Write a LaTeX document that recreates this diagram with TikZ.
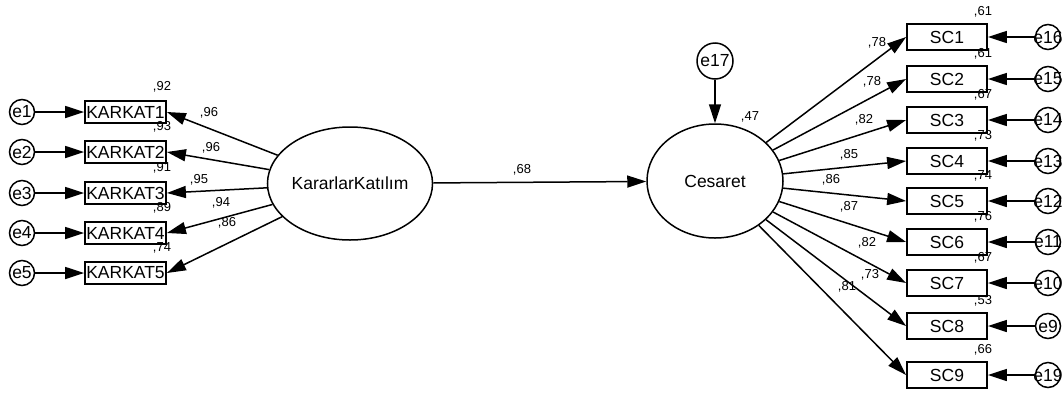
\documentclass[tikz,border=0pt]{standalone}
\usepackage{fontspec}
\setmainfont{Liberation Sans}
\usetikzlibrary{shapes.geometric,arrows.meta}
\begin{document}
\begin{tikzpicture}[x=1pt,y=-1pt,
  lw/.style={line width=1.5pt},
  arr/.style={lw,-{Triangle[length=19pt,width=12pt]}},
  obsK/.style={draw,line width=1.8pt,minimum width=81pt,minimum height=22pt,inner sep=0pt,font=\fontsize{17.5}{17.5}\selectfont},
  obsS/.style={draw,line width=1.8pt,minimum width=80pt,minimum height=26pt,inner sep=0pt,font=\fontsize{17.5}{17.5}\selectfont},
  lat/.style={draw,lw,ellipse,inner sep=0pt,font=\fontsize{17.5}{17.5}\selectfont},
  errc/.style={draw,lw,circle,minimum size=25pt,inner sep=0pt,font=\fontsize{17.5}{17.5}\selectfont},
  num/.style={font=\fontsize{13}{13}\selectfont,inner sep=0pt}
]
\useasboundingbox (0,0) rectangle (1064,394);

% latent variables
\node[lat,minimum width=134pt,minimum height=113pt] (kk) at (350,183.5) {KararlarKatılım};
\node[lat,minimum width=136pt,minimum height=114pt] (ces) at (715,181) {Cesaret};
\node[errc,minimum size=36pt] (e17) at (715,61) {e17};

% left indicators
\foreach \i/\y in {1/112,2/152,3/193,4/233,5/273}{
  \node[obsK] (k\i) at (125.5,\y) {KARKAT\i};
  \node[errc] (e\i) at (22,\y) {\makebox[0pt]{e\i}};
  \draw[arr] (e\i) -- (k\i.west);
  \draw[arr] (kk) -- (k\i.east);
}
% right indicators
\foreach \i/\y/\e in {1/37/16,2/79/15,3/120/14,4/161/13,5/201/12,6/242/11,7/283/10,8/326/9,9/375/19}{
  \node[obsS] (s\i) at (947,\y) {SC\i};
  \node[errc] (r\i) at (1048,\y) {\makebox[0pt]{e\e}};
  \draw[arr] (r\i) -- (s\i.east);
  \draw[arr] (ces) -- (s\i.west);
}

\draw[arr] (kk) -- (ces);
\draw[arr] (e17) -- (ces);

% squared multiple correlations
\node[num] (q1) at (162,87) {,92};
\node[num] (q2) at (162,127) {,93};
\node[num] (q3) at (162,168) {,91};
\node[num] (q4) at (162,208) {,89};
\node[num] (q5) at (162,248) {,74};

\node[num] (p1) at (983,12) {,61};
\node[num] (p2) at (983,54) {,61};
\node[num] (p3) at (983,95) {,67};
\node[num] (p4) at (983,136) {,73};
\node[num] (p5) at (983,176) {,74};
\node[num] (p6) at (983,217) {,76};
\node[num] (p7) at (983,258) {,67};
\node[num] (p8) at (983,301) {,53};
\node[num] (p9) at (983,350) {,66};
\node[num] (p10) at (750,117) {,47};

% loadings
\node[num] (l1) at (209,113) {,96};
\node[num] (l2) at (211,148) {,96};
\node[num] (l3) at (199,180) {,95};
\node[num] (l4) at (221,203) {,94};
\node[num] (l5) at (227,223) {,86};
\node[num] (l6) at (522,170) {,68};

\node[num] (m1) at (877,43) {,78};
\node[num] (m2) at (872,82) {,78};
\node[num] (m3) at (864,120) {,82};
\node[num] (m4) at (849,155) {,85};
\node[num] (m5) at (831,180) {,86};
\node[num] (m6) at (849,207) {,87};
\node[num] (m7) at (867,243) {,82};
\node[num] (m8) at (870,275) {,73};
\node[num] (m9) at (847,287) {,81};
\end{tikzpicture}
\end{document}
